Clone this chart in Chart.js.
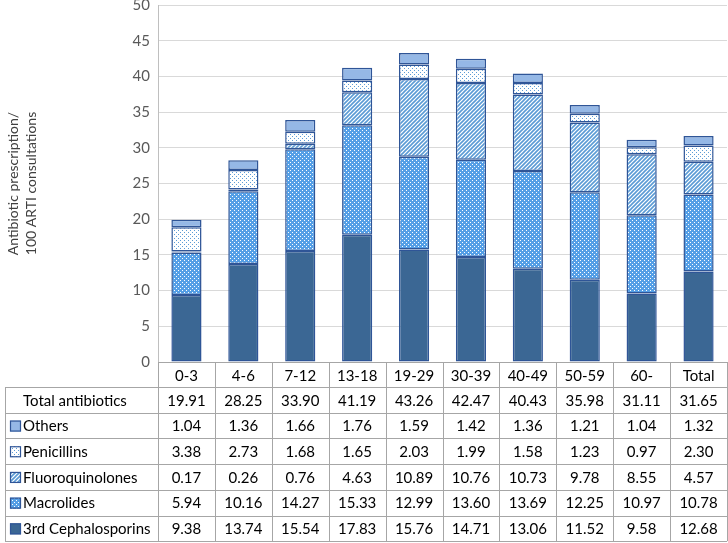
<!DOCTYPE html>
<html>
<head>
<meta charset="utf-8">
<script src="https://cdn.jsdelivr.net/npm/chart.js@4.4.1/dist/chart.umd.min.js"></script>
<style>
	html, body { margin: 0; padding: 0; background: #fff; }
	#wrap { width: 728px; height: 543px; position: relative; }
</style>
</head>
<body>
<div id="wrap"><canvas id="abxChart"></canvas></div>
<script>
var categories = ['0-3', '4-6', '7-12', '13-18', '19-29', '30-39', '40-49', '50-59', '60-', 'Total'];
var totalAntibiotics = [19.91, 28.25, 33.90, 41.19, 43.26, 42.47, 40.43, 35.98, 31.11, 31.65];
var others = [1.04, 1.36, 1.66, 1.76, 1.59, 1.42, 1.36, 1.21, 1.04, 1.32];
var penicillins = [3.38, 2.73, 1.68, 1.65, 2.03, 1.99, 1.58, 1.23, 0.97, 2.30];
var fluoroquinolones = [0.17, 0.26, 0.76, 4.63, 10.89, 10.76, 10.73, 9.78, 8.55, 4.57];
var macrolides = [5.94, 10.16, 14.27, 15.33, 12.99, 13.60, 13.69, 12.25, 10.97, 10.78];
var cephalosporins = [9.38, 13.74, 15.54, 17.83, 15.76, 14.71, 13.06, 11.52, 9.58, 12.68];
var yTicks = [0, 5, 10, 15, 20, 25, 30, 35, 40, 45, 50];
var yTitle = ['Antibiotic prescription/', '100 ARTI consultations'];

var FONT = 'Lato, "Open Sans", sans-serif';
var EDGE = '#2f5597';

// small tile patterns like the excel fills
function tile(w, h, draw) {
	var c = document.createElement('canvas');
	c.width = w; c.height = h;
	var g = c.getContext('2d');
	draw(g);
	return document.getElementById('abxChart').getContext('2d').createPattern(c, 'repeat');
}

var solidDark = '#3b6794';
var solidLight = '#95b8e6';
var dotsOnBlue = tile(4, 4, function (g) {
	g.fillStyle = '#559fe6'; g.fillRect(0, 0, 4, 4);
	g.fillStyle = '#ffffff'; g.fillRect(0, 0, 1, 1); g.fillRect(2, 2, 1, 1);
});
var dotsOnWhite = tile(4, 4, function (g) {
	g.fillStyle = '#ffffff'; g.fillRect(0, 0, 4, 4);
	g.fillStyle = '#5b9bd5'; g.fillRect(0, 0, 1, 1); g.fillRect(2, 2, 1, 1);
});
var stripes = tile(4, 4, function (g) {
	g.fillStyle = '#ffffff'; g.fillRect(0, 0, 4, 4);
	g.strokeStyle = '#5b9bd5'; g.lineWidth = 1.6;
	g.beginPath();
	g.moveTo(-1, 5); g.lineTo(5, -1);
	g.moveTo(-3, 3); g.lineTo(3, -3);
	g.moveTo(1, 7); g.lineTo(7, 1);
	g.stroke();
});

function series(label, data, fill) {
	return {
		label: label,
		data: data,
		backgroundColor: fill,
		borderColor: EDGE,
		borderWidth: 1.5,
		borderSkipped: false,
		barPercentage: 0.53,
		categoryPercentage: 1
	};
}

// data table under the plot
var tablePlugin = {
	id: 'dataTable',
	afterDraw: function (chart) {
		var ctx = chart.ctx;
		var xs = chart.scales.x;
		var area = chart.chartArea;
		var left = 5, right = area.right;
		var rowTop = area.bottom + 25;
		var rowH = 25.7;
		var rows = [{ label: 'Total antibiotics', data: totalAntibiotics, key: null }];
		for (var i = chart.data.datasets.length - 1; i >= 0; i--) {
			var ds = chart.data.datasets[i];
			rows.push({ label: ds.label, data: ds.data, key: ds.backgroundColor });
		}
		var bottom = rowTop + rows.length * rowH;
		var step = xs.getPixelForValue(1) - xs.getPixelForValue(0);

		ctx.save();
		ctx.strokeStyle = '#a6a6a6';
		ctx.lineWidth = 1;
		ctx.beginPath();
		// column lines
		for (var c = 0; c <= categories.length; c++) {
			var x = Math.round(xs.getPixelForValue(c) - step / 2) + 0.5;
			ctx.moveTo(x, area.bottom);
			ctx.lineTo(x, bottom);
		}
		ctx.moveTo(left + 0.5, rowTop);
		ctx.lineTo(left + 0.5, bottom);
		// row lines
		for (var r = 0; r <= rows.length; r++) {
			var y = Math.round(rowTop + r * rowH) + 0.5;
			ctx.moveTo(left, y);
			ctx.lineTo(right, y);
		}
		ctx.stroke();

		ctx.font = '15px ' + FONT;
		ctx.fillStyle = '#000000';
		ctx.textBaseline = 'middle';
		rows.forEach(function (row, r) {
			var cy = rowTop + r * rowH + rowH / 2 + 1;
			ctx.textAlign = 'left';
			ctx.fillText(row.label, 23, cy);
			if (row.key) {
				ctx.fillStyle = row.key;
				ctx.fillRect(10, cy - 6, 11, 11);
				ctx.strokeStyle = EDGE;
				ctx.lineWidth = 1.2;
				ctx.strokeRect(10.5, cy - 5.5, 10, 10);
				ctx.fillStyle = '#000000';
			}
			ctx.textAlign = 'center';
			row.data.forEach(function (v, c) {
				ctx.fillText(v.toFixed(2), xs.getPixelForValue(c), cy);
			});
		});
		ctx.restore();
	}
};

var ctx = document.getElementById('abxChart');
var myChart = new Chart(ctx, {
	type: 'bar',
	data: {
		labels: categories,
		datasets: [
			series('3rd Cephalosporins', cephalosporins, solidDark),
			series('Macrolides', macrolides, dotsOnBlue),
			series('Fluoroquinolones', fluoroquinolones, stripes),
			series('Penicillins', penicillins, dotsOnWhite),
			series('Others', others, solidLight)
		]
	},
	options: {
		responsive: true,
		maintainAspectRatio: false,
		animation: false,
		layout: {
			padding: { top: 5, bottom: 156, left: 0, right: 1 }
		},
		scales: {
			x: {
				stacked: true,
				grid: { display: false, drawTicks: false },
				border: { color: '#a6a6a6' },
				ticks: {
					padding: 5,
					color: '#000000',
					font: { family: FONT, size: 15 }
				},
				afterFit: function (s) { s.height = 25; }
			},
			y: {
				stacked: true,
				min: yTicks[0],
				max: yTicks[yTicks.length - 1],
				afterBuildTicks: function (s) {
					s.ticks = yTicks.map(function (v) { return { value: v }; });
				},
				grid: { color: '#d9d9d9', drawTicks: false },
				border: { color: '#bfbfbf' },
				ticks: {
					padding: 8,
					color: '#595959',
					font: { family: FONT, size: 15 }
				},
				title: {
					display: true,
					text: yTitle,
					color: '#404040',
					padding: { top: 4, bottom: 0 },
					font: { family: FONT, size: 14, lineHeight: 1.3 }
				},
				afterFit: function (s) {
					s.width = 158;
					s.paddingTop = 0;
					s.paddingBottom = 0;
				}
			}
		},
		plugins: {
			legend: { display: false },
			tooltip: { enabled: false }
		}
	},
	plugins: [tablePlugin]
});
</script>
</body>
</html>
